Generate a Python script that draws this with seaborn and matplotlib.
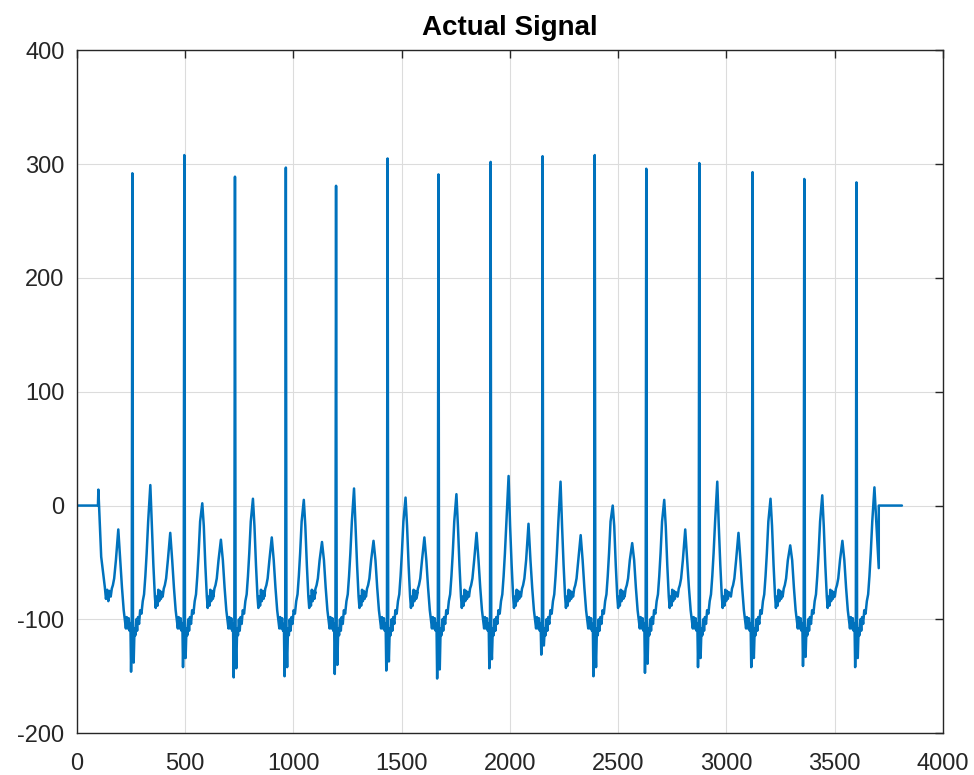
import numpy as np
import pandas as pd
import matplotlib
matplotlib.use("Agg")
import matplotlib.pyplot as plt
import seaborn as sns

# ---- data ----
r_pos = [256, 496, 730, 965, 1197, 1435, 1670, 1911, 2151, 2392, 2630, 2875, 3121, 3360, 3601]
r_amp = [292, 308, 289, 297, 281, 305, 291, 302, 307, 308, 296, 301, 293, 287, 284]
q_min = [-146, -142, -151, -150, -148, -145, -152, -143, -131, -150, -147, -142, -142, -141, -142]
t_amp = [18, 2, 6, 5, 15, 7, 10, 26, 21, 0, 5, 21, 6, 9, 16]
p_amp = [-21, -24, -30, -28, -32, -31, -28, -24, -16, -26, -33, -21, -24, -35, -31]

# lead-in and tail segments (sample index, value)
lead_x = [0, 97, 99, 112, 129, 134, 140, 145, 150, 156]
lead_y = [0, 0, 14, -45, -72, -82, -74, -84, -75, -80]
tail_x = [3704, 3704, 3811]
tail_y = [-55, 0, 0]

# waveform shape around each R peak: (offset, value or parameter key)
shape = [(-100, -80), (-95, -73), (-90, -70), (-84, -64), (-76, -48), ("P", "p"),
         (-56, -48), (-48, -72), (-40, -92), (-35, -100), (-30, -108), (-26, -98),
         (-22, -108), (-17, -99), (-13, -110), (-9, -104),
         (-6, "q"), (-3, -112), (0, "r"), (3, -122), (6, "q2"), (10, -108),
         (14, -114), (18, -100), (22, -110), (26, -98), (31, -104), (36, -92),
         (42, -95), (48, -84), (54, -78), (60, -62), (66, -42), (73, -14), ("T", "t"),
         (90, -18), (97, -52), (104, -80), (108, -90), (112, -80), (116, -88),
         (120, -74), (124, -84), (128, -75), (132, -82), (136, -76)]


def beat_points(i, last=False):
    xs, ys = [], []
    for off, val in shape:
        if off == "P":
            off = -65
        if off == "T":
            off = 83
        if last and off > 85:
            break
        if val == "p":
            v = p_amp[i]
        elif val == "q":
            v = q_min[i]
        elif val == "q2":
            v = q_min[i] + 8
        elif val == "r":
            v = r_amp[i]
        elif val == "t":
            v = t_amp[i]
        else:
            v = val
        xs.append(r_pos[i] + off)
        ys.append(v)
    return xs, ys


sig_x, sig_y = list(lead_x), list(lead_y)
for i in range(len(r_pos)):
    bx, by = beat_points(i, last=(i == len(r_pos) - 1))
    sig_x += bx
    sig_y += by
sig_x += tail_x
sig_y += tail_y

df = pd.DataFrame({"sample": sig_x, "value": sig_y})

sns.set_theme(style="white")
plt.rcParams["font.family"] = ["Liberation Sans", "DejaVu Sans"]
plt.rcParams["axes.unicode_minus"] = False

fig = plt.figure(figsize=(9.74, 7.75), dpi=100)
ax = fig.add_axes([0.079, 0.054, 0.889, 0.881])

sns.lineplot(data=df, x="sample", y="value", estimator=None, sort=False,
             color="#0072BD", linewidth=1.8, ax=ax)

ax.set_xlim(0, 4000)
ax.set_ylim(-200, 400)
ax.set_xticks(np.arange(0, 4001, 500))
ax.set_yticks(np.arange(-200, 401, 100))
ax.grid(True, color="#dcdcdc", linewidth=0.8)
ax.set_axisbelow(True)
ax.set_xlabel("")
ax.set_ylabel("")
for s in ax.spines.values():
    s.set_visible(True)
    s.set_color("#262626")
    s.set_linewidth(1.0)
ax.tick_params(direction="in", length=6, width=1.0, color="#262626",
               top=True, right=True, labelsize=17, labelcolor="#262626")
ax.tick_params(axis="x", pad=14)
ax.tick_params(axis="y", pad=9)
ax.set_title("Actual Signal", fontsize=20, fontweight="bold", color="black", pad=11)

fig.savefig("out.png", dpi=100, facecolor="white")
